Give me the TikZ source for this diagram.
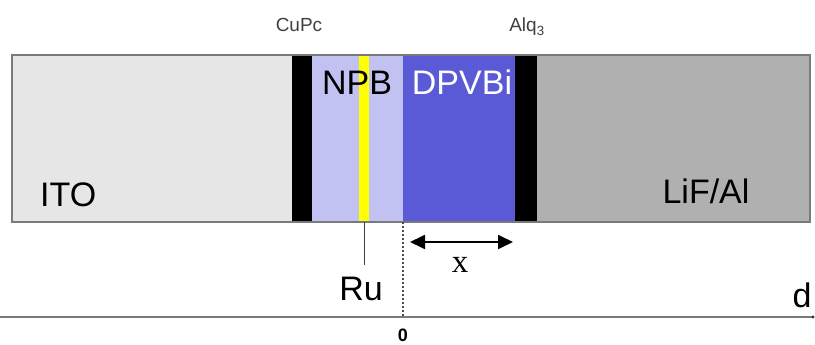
\documentclass[tikz,border=0pt]{standalone}
\usepackage{fontspec}
\setmainfont{Liberation Sans}
\newfontfamily\serifx{Liberation Serif}
\usepackage{tikz}
\usetikzlibrary{arrows.meta, positioning}
\definecolor{itogray}{HTML}{E6E6E6}
\definecolor{npbblue}{HTML}{C2C2F2}
\definecolor{dpvblue}{HTML}{5A5AD6}
\definecolor{lifgray}{HTML}{B0B0B0}
\definecolor{framegray}{HTML}{7A7A7A}
\definecolor{rugold}{HTML}{FFFF00}
\tikzset{
  layer/.style={draw=none,inner sep=0pt,outer sep=0pt,anchor=north west,minimum height=167pt},
  bigtxt/.style={font=\fontsize{34}{38}\selectfont,inner sep=0pt},
  smalltxt/.style={font=\fontsize{19}{22}\selectfont,inner sep=0pt},
  dimarrow/.style={{Triangle[length=15pt,width=14pt]}-{Triangle[length=15pt,width=14pt]},line width=1.8pt},
  zeroline/.style={black!70,line width=1.2pt,dash pattern=on 2pt off 2pt},
}

\begin{document}
\begin{tikzpicture}[x=1pt,y=-1pt]
  \useasboundingbox (0,0) rectangle (815,345);
  % layer stack
  \node[layer,fill=itogray,minimum width=280pt] (ito) at (12,55) {};
  \node[layer,fill=black,minimum width=20pt] (cupc) at (292,55) {};
  \node[layer,fill=npbblue,minimum width=91pt] (npb) at (312,55) {};
  \node[layer,fill=dpvblue,minimum width=112pt] (dpvbi) at (403,55) {};
  \node[layer,fill=black,minimum width=22pt] (alq) at (515,55) {};
  \node[layer,fill=lifgray,minimum width=273pt] (lif) at (537,55) {};
  \node[layer,fill=rugold,minimum width=10pt] (ru) at (359,55) {};
  \draw[framegray,line width=1.5pt] (ito.north west) rectangle (lif.south east);
  % labels
  \node[bigtxt,anchor=base west] (itolbl) at (40,206) {ITO};
  \node[bigtxt,anchor=base] (npblbl) at (357,95) {NPB};
  \node[bigtxt,anchor=base,text=white] (dpvlbl) at (462,95) {DPVBi};
  \node[bigtxt,anchor=base] (liflbl) at (706,203) {LiF/Al};
  \node[smalltxt,anchor=base,text=black!75] (cupclbl) at (299,32) {CuPc};
  \node[smalltxt,anchor=base,text=black!75] (alqlbl) at (527,32) {Alq\textsubscript{3}};
  \node[bigtxt,anchor=base] (rulbl) at (361,300) {Ru};
  \draw[black!75,line width=1pt,shorten >=11pt] (ru.south) -- (ru.south |- rulbl.north);
  % axis
  \coordinate (axl) at (0,317);
  \coordinate (axr) at (813,317);
  \draw[framegray,line width=2pt] (axl) -- (axr);
  \fill[black!80] (axr) circle (1.6pt);
  \node[bigtxt,anchor=base] (dlbl) at (802,307) {d};
  \draw[zeroline] (dpvbi.south west) -- (dpvbi.south west |- axl);
  \node[font=\bfseries\fontsize{18}{20}\selectfont,inner sep=0pt,anchor=base] (zerolbl) at (403,341) {0};
  % x distance
  \coordinate (xa) at (410,242);
  \coordinate (xb) at (513,242);
  \draw[dimarrow] (xa) -- (xb);
  \node[font=\serifx\fontsize{33}{36}\selectfont,inner sep=0pt,anchor=base] (xlbl) at (460,272) {x};
\end{tikzpicture}
\end{document}
